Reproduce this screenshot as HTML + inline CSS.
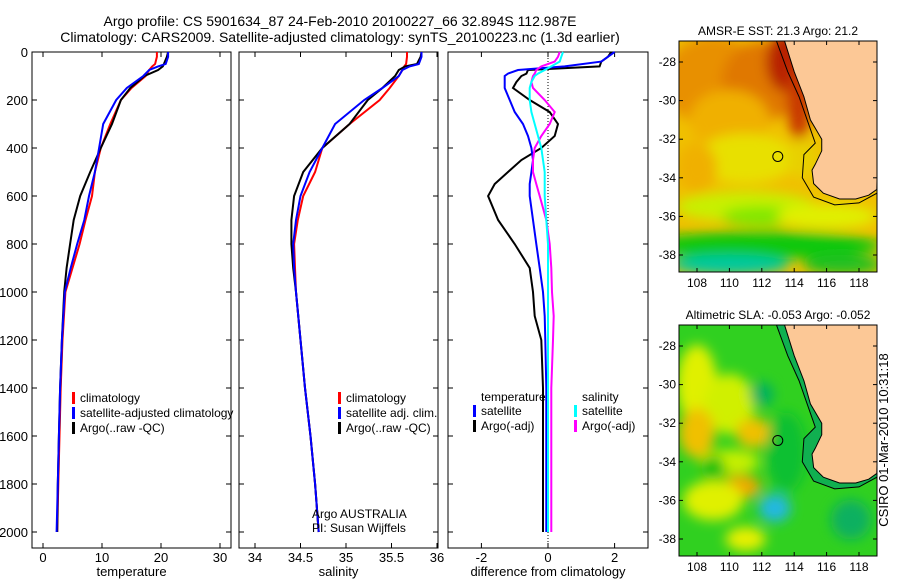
<!DOCTYPE html>
<html><head><meta charset="utf-8"><style>
body{margin:0;background:#fff}
svg{display:block;font-family:"Liberation Sans",sans-serif}
</style></head><body>
<svg id="c" width="900" height="580" viewBox="0 0 900 580">
<defs>
<filter id="bl" x="-20%" y="-20%" width="140%" height="140%"><feGaussianBlur stdDeviation="6"/></filter>
<clipPath id="m1c"><rect x="679" y="41" width="198" height="231"/></clipPath>
<clipPath id="m2c"><rect x="679" y="325" width="198" height="231"/></clipPath>
</defs>
<text x="340" y="26" font-size="14" text-anchor="middle">Argo profile: CS 5901634_87 24-Feb-2010 20100227_66 32.894S 112.987E</text>
<text x="340" y="42" font-size="14" text-anchor="middle">Climatology: CARS2009. Satellite-adjusted climatology: synTS_20100223.nc (1.3d earlier)</text>
<g id="plots"></g>
<g id="maps"></g>
<text x="888" y="440" font-size="13" text-anchor="middle" transform="rotate(-90 888 440)">CSIRO 01-Mar-2010 10:31:18</text>
</svg>
<script>
const NS='http://www.w3.org/2000/svg';
const depths=[0,20,50,60,75,100,150,200,300,400,500,600,700,800,900,1000,1200,1400,1600,1800,2000];
const tClim=[19.3,19.3,19.0,18.5,18.0,17.4,15.0,13.2,11.4,9.8,8.8,8.3,7.2,6.2,5.0,3.8,3.3,3.0,2.8,2.6,2.4];
const tSat=[21.2,21.2,20.8,19.5,18.0,17.0,14.2,12.4,10.2,9.5,8.8,7.8,7.0,5.8,4.7,3.7,3.2,2.9,2.7,2.5,2.3];
const tArgo=[21.2,21.0,20.5,20.3,19.5,17.2,14.8,13.2,11.7,9.8,8.0,6.3,5.2,4.6,4.0,3.6,3.2,2.9,2.7,2.5,2.4];
const sClim=[35.67,35.67,35.66,35.64,35.62,35.58,35.48,35.37,35.04,34.74,34.66,34.53,34.47,34.43,34.44,34.45,34.5,34.55,34.61,34.66,34.70];
const sSat=[35.83,35.83,35.8,35.7,35.62,35.58,35.4,35.2,34.88,34.74,34.6,34.5,34.45,34.42,34.43,34.45,34.5,34.55,34.61,34.66,34.70];
const sArgo=[35.83,35.82,35.78,35.65,35.58,35.54,35.4,35.24,35.04,34.74,34.53,34.43,34.40,34.40,34.42,34.45,34.5,34.55,34.61,34.66,34.70];
const dDepth=[0,20,40,60,75,90,100,125,150,200,250,300,350,400,450,500,550,600,700,800,900,1000,1100,1200,1400,1600,1800,2000];
const dTSat=[2.0,1.8,1.6,0.5,-0.9,-1.2,-1.3,-1.3,-1.3,-1.15,-1.0,-0.75,-0.6,-0.5,-0.45,-0.5,-0.55,-0.55,-0.45,-0.35,-0.25,-0.15,-0.1,-0.08,-0.05,-0.05,-0.05,-0.05];
const dTArgo=[1.9,1.8,1.6,1.55,-0.6,-0.65,-0.8,-0.95,-1.05,-0.55,0.05,0.3,0.2,-0.2,-0.8,-1.2,-1.6,-1.8,-1.5,-1.0,-0.55,-0.45,-0.4,-0.2,-0.15,-0.15,-0.15,-0.15];
const dSSat=[0.45,0.4,0.35,0.1,-0.1,-0.3,-0.4,-0.5,-0.55,-0.55,-0.5,-0.4,-0.3,-0.2,-0.15,-0.1,-0.1,-0.1,-0.05,0,0,0,0,0,0,0,0,0];
const dSArgo=[0.35,0.3,0.2,-0.2,-0.35,-0.4,-0.45,-0.5,-0.45,-0.1,0.2,0.05,-0.2,-0.4,-0.45,-0.45,-0.35,-0.25,-0.05,0.05,0.1,0.12,0.17,0.15,0.1,0.1,0.1,0.1];
const depthTicks=[0,200,400,600,800,1000,1200,1400,1600,1800,2000];
const tTicks=[0,10,20,30];
const sTicks=[34,34.5,35,35.5,36];
const dTicks=[-2,0,2];

const PT=52,PB=548;
const yD=d=>PT+d*0.24;
function el(tag,attrs,parent,text){const e=document.createElementNS(NS,tag);for(const k in attrs)e.setAttribute(k,attrs[k]);if(text!==undefined)e.textContent=text;parent.appendChild(e);return e;}
const plots=document.getElementById('plots');

function panel(name,x0,x1,xf,ticks,xlabel,showY){
  const g=el('g',{},plots);
  
  
  const fr=el('rect',{x:x0,y:PT,width:x1-x0,height:PB-PT,fill:'none',stroke:'#000','stroke-width':1},g);
  
  
  depthTicks.forEach(d=>{const y=yD(d);
    el('line',{x1:x0,x2:x0+5,y1:y,y2:y,stroke:'#000'},g);
    el('line',{x1:x1-5,x2:x1,y1:y,y2:y,stroke:'#000'},g);
    if(showY){const t=el('text',{x:x0-4,y:y+5,'font-size':13,'text-anchor':'end'},g,String(d));
      
      }
  });
  ticks.forEach(v=>{const x=xf(v);
    el('line',{x1:x,x2:x,y1:PT,y2:PT+5,stroke:'#000'},g);
    el('line',{x1:x,x2:x,y1:PB-5,y2:PB,stroke:'#000'},g);
    const t=el('text',{x:x,y:PB+14,'font-size':13,'text-anchor':'middle'},g,String(v));
    
    
  });
  const xl=el('text',{x:(x0+x1)/2,y:PB+28,'font-size':13,'text-anchor':'middle'},g,xlabel);
  
  
  return g;
}
function line(g,dep,vals,xf,color,name){
  const pts=vals.map((v,i)=>xf(v).toFixed(1)+','+yD(dep[i]).toFixed(1)).join(' ');
  const p=el('polyline',{points:pts,fill:'none',stroke:color,'stroke-width':2},g);
  
  
}
function legend(g,x,y,color,label,name){
  const r=el('rect',{x:x,y:y-10,width:3,height:12,fill:color},g);
  const t=el('text',{x:x+8,y:y,'font-size':12},g,label);
  
  
}
const xT=v=>43+5.9*v, xS=v=>255+91*(v-34), xDf=v=>548+33.3*v;
const g1=panel('temperature-panel',32,231,xT,tTicks,'temperature',true);
line(g1,depths,tClim,xT,'#f00','temp-climatology-line');
line(g1,depths,tArgo,xT,'#000','temp-argo-line');
line(g1,depths,tSat,xT,'#00f','temp-satellite-line');
legend(g1,72,402,'#f00','climatology','legend-climatology');
legend(g1,72,417,'#00f','satellite-adjusted climatology','legend-satellite');
legend(g1,72,432,'#000','Argo(..raw -QC)','legend-argo');
const g2=panel('salinity-panel',239,438,xS,sTicks,'salinity',false);
line(g2,depths,sClim,xS,'#f00','sal-climatology-line');
line(g2,depths,sArgo,xS,'#000','sal-argo-line');
line(g2,depths,sSat,xS,'#00f','sal-satellite-line');
legend(g2,338,402,'#f00','climatology','legend-climatology-2');
legend(g2,338,417,'#00f','satellite adj. clim.','legend-satellite-2');
legend(g2,338,432,'#000','Argo(..raw -QC)','legend-argo-2');
el('text',{x:312,y:518,'font-size':12},g2,'Argo AUSTRALIA');
el('text',{x:312,y:532,'font-size':12},g2,'PI: Susan Wijffels');
const g3=panel('difference-panel',448,648,xDf,dTicks,'difference from climatology',false);
el('line',{x1:548,x2:548,y1:PT,y2:PB,stroke:'#000','stroke-dasharray':'1,2'},g3);
line(g3,dDepth,dTArgo,xDf,'#000','diff-temp-argo-line');
line(g3,dDepth,dTSat,xDf,'#00f','diff-temp-satellite-line');
line(g3,dDepth,dSArgo,xDf,'#f0f','diff-sal-argo-line');
line(g3,dDepth,dSSat,xDf,'#0ff','diff-sal-satellite-line');
el('text',{x:481,y:401,'font-size':12},g3,'temperature');
legend(g3,473,415,'#00f','satellite','legend-diff-temp-sat');
legend(g3,473,430,'#000','Argo(-adj)','legend-diff-temp-argo');
el('text',{x:582,y:401,'font-size':12},g3,'salinity');
legend(g3,574,415,'#0ff','satellite','legend-diff-sal-sat');
legend(g3,574,430,'#f0f','Argo(-adj)','legend-diff-sal-argo');

// maps
const maps=document.getElementById('maps');
const lonTicks=[108,110,112,114,116,118];
const latTicks=[-28,-30,-32,-34,-36,-38];
const coast=[[113.4,-26.9],[114.0,-28.5],[114.6,-29.8],[115.0,-31.0],[115.7,-32.0],[115.7,-32.6],[115.3,-33.3],[115.1,-33.6],[115.2,-34.3],[115.8,-34.8],[116.8,-35.1],[117.8,-35.1],[118.6,-34.9],[119.1,-34.6]];
const contour=[[112.9,-26.9],[113.6,-28.5],[114.3,-29.8],[114.8,-31.0],[115.3,-32.2],[114.6,-32.8],[114.5,-34.0],[115.2,-35.0],[116.5,-35.4],[118.0,-35.3],[119.1,-34.8]];
function mapPanel(name,y0,title,blobs,base,inshore){
  const xL=v=>697+16.2*(v-108), yL=(v,ref)=>ref+19.3*(-28-v);
  const ref=y0+21;
  const g=el('g',{},maps);
  
  
  const t=el('text',{x:778,y:y0-6,'font-size':12,'text-anchor':'middle'},g,title);
  
  
  const inner=el('g',{'clip-path':'url(#'+(name==='sst-map'?'m1c':'m2c')+')'},g);
  el('rect',{x:679,y:y0,width:198,height:231,fill:base},inner);
  const bg=el('g',{filter:'url(#bl)'},inner);
  blobs.forEach(b=>el('ellipse',{cx:xL(b[0]),cy:yL(b[1],ref),rx:b[2],ry:b[3],fill:b[4]},bg));
  const cp=contour.map(p=>xL(p[0])+','+yL(p[1],ref)).join(' ');
  if(inshore) el('polygon',{points:cp+' 880,'+y0,fill:inshore},inner);
  const lp=coast.map(p=>xL(p[0])+','+yL(p[1],ref)).join(' ')+' 880,'+(y0-5);
  const land=el('polygon',{points:lp,fill:'#fcc896',stroke:'#000','stroke-width':1},inner);
  
  
  el('polyline',{points:cp,fill:'none',stroke:'#000','stroke-width':1},inner);
  const mk=el('circle',{cx:xL(112.987),cy:yL(-32.894,ref),r:5,fill:'none',stroke:'#000'},g);
  
  
  el('rect',{x:679,y:y0,width:198,height:231,fill:'none',stroke:'#000'},g);
  lonTicks.forEach(v=>{const x=xL(v);
    el('line',{x1:x,x2:x,y1:y0,y2:y0+4,stroke:'#000'},g);
    el('line',{x1:x,x2:x,y1:y0+227,y2:y0+231,stroke:'#000'},g);
    const l=el('text',{x:x,y:y0+246,'font-size':12,'text-anchor':'middle'},g,String(v));
    
    });
  latTicks.forEach(v=>{const y=yL(v,ref);
    el('line',{x1:679,x2:683,y1:y,y2:y,stroke:'#000'},g);
    el('line',{x1:873,x2:877,y1:y,y2:y,stroke:'#000'},g);
    const l=el('text',{x:676,y:y+4,'font-size':12,'text-anchor':'end'},g,String(v));
    
    });
}
mapPanel('sst-map',41,'AMSR-E SST: 21.3 Argo: 21.2',[
 [109,-29,50,45,'#e89000'],[112,-29,40,40,'#e07800'],[113.5,-28,20,30,'#b82000'],[114.3,-30,12,40,'#c83800'],
 [110,-31,40,30,'#f0b000'],[111,-33,50,25,'#e8e000'],[108,-33.5,20,25,'#f0b000'],[114.5,-33,15,20,'#e8d000'],
 [111,-35.5,70,15,'#c8f000'],[112,-36,40,10,'#80e800'],[116,-36,50,12,'#e0f000'],
 [112,-37.5,120,14,'#10c810'],[110,-38.5,60,10,'#00c8a0'],[117,-38.5,40,10,'#20c020']
],'#f0c000',null);
mapPanel('sla-map',325,'Altimetric SLA: -0.053 Argo: -0.052',[
 [108,-30,20,40,'#e0f000'],[110,-31,25,30,'#d0f000'],[108,-32.5,18,25,'#f0c000'],[111.5,-32.5,18,15,'#f0c000'],
 [110,-34,30,12,'#c8f000'],[110.7,-35.3,20,12,'#f0a800'],[109,-36,30,20,'#e0f000'],[111,-38,20,12,'#e8f000'],
 [112,-30.5,12,12,'#00b060'],[112.8,-36.4,16,14,'#20b8e0'],[117.5,-37,20,20,'#10b060'],[113.5,-33.5,20,40,'#10c030'],[109,-34.3,12,12,'#10c010']
],'#30d020','#10b050');
</script>
</body></html>
